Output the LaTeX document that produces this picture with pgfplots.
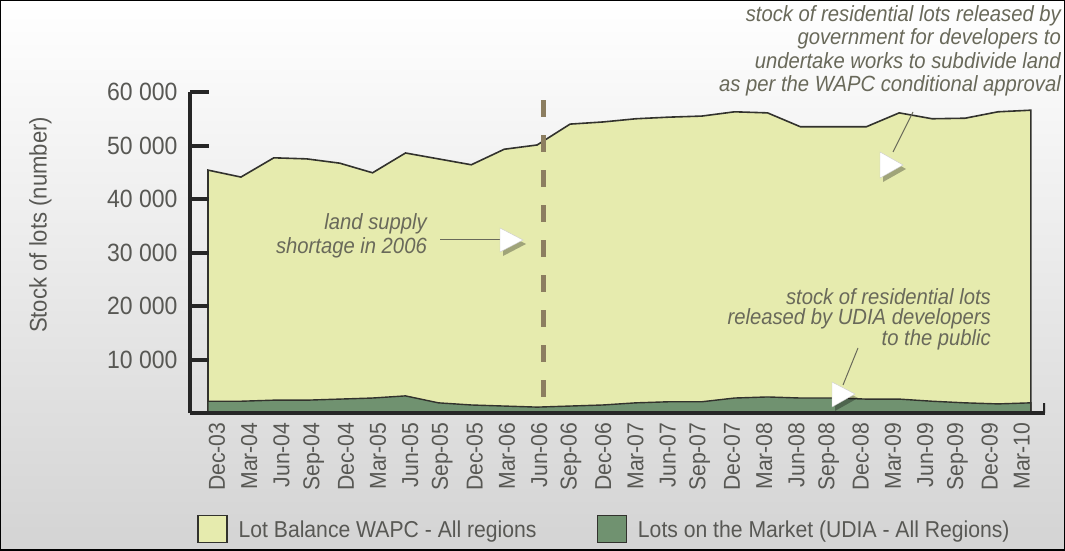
\documentclass[border=0pt]{standalone}
\usepackage{fontspec}
\setmainfont{Liberation Sans}[FakeStretch=0.92]
\usepackage{pgfplots}
\pgfplotsset{compat=1.18}
\usetikzlibrary{shadows}

\definecolor{wapc}{RGB}{230,235,174}
\definecolor{udia}{RGB}{112,146,112}
\definecolor{edge}{RGB}{50,50,45}
\definecolor{txt}{RGB}{88,88,84}
\definecolor{note}{RGB}{105,105,90}
\definecolor{dashc}{RGB}{140,126,96}

% quarterly stock of lots, Dec-03 .. Mar-10 (x = 0 .. 25)
\pgfplotstableread{
x  lots
0  45400
1  44100
2  47700
3  47500
4  46700
5  44900
6  48600
7  47500
8  46400
9  49300
10 50100
11 54000
12 54400
13 55000
14 55300
15 55500
16 56300
17 56100
18 53500
19 53500
20 53500
21 56100
22 55000
23 55100
24 56300
25 56600
}\wapctab
\pgfplotstableread{
x  lots
0  2200
1  2200
2  2400
3  2400
4  2600
5  2800
6  3200
7  1900
8  1500
9  1300
10 1100
11 1300
12 1500
13 1900
14 2100
15 2100
16 2800
17 3000
18 2800
19 2800
20 2600
21 2600
22 2200
23 1900
24 1700
25 1900
}\udiatab

\newcommand\labfont{\fontsize{23}{26}\selectfont}
\newcommand\notefont{\fontsize{22}{23.5}\selectfont\itshape}

\begin{document}
\begin{tikzpicture}
\useasboundingbox (0pt,0pt) rectangle (1065pt,550pt);
\shade[top color=white, middle color=black!7, bottom color=black!17] (0pt,0pt) rectangle (1065pt,550pt);
\draw[line width=2pt] (0pt,0pt) rectangle (1065pt,550pt);

\begin{axis}[
  at={(190pt,137pt)}, anchor=south west,
  scale only axis, width=855pt, height=321pt,
  xmin=-0.547, xmax=25.43, ymin=0, ymax=60000,
  axis on top,
  axis x line=bottom, axis y line=left,
  axis line style={-, line width=4.5pt, black!85},
  tick align=inside, major tick length=19pt,
  scaled y ticks=false,
  ytick={10000,20000,30000,40000,50000,60000},
  yticklabels={10 000,20 000,30 000,40 000,50 000,60 000},
  ytick style={line width=4pt, black!85},
  yticklabel style={font=\fontsize{25}{28}\selectfont, text=txt},
  yticklabel shift=9pt,
  xtick={0.27,1.25,2.23,3.21,4.19,5.16,6.14,7.12,8.10,9.08,10.06,11.03,12.01,
         12.99,13.97,14.94,15.92,16.90,17.88,18.86,19.83,20.81,21.79,22.77,23.75,24.72},
  xticklabels={Dec-03,Mar-04,Jun-04,Sep-04,Dec-04,Mar-05,Jun-05,Sep-05,Dec-05,
               Mar-06,Jun-06,Sep-06,Dec-06,Mar-07,Jun-07,Sep-07,Dec-07,Mar-08,
               Jun-08,Sep-08,Dec-08,Mar-09,Jun-09,Sep-09,Dec-09,Mar-10},
  xtick style={draw=none},
  xticklabel style={rotate=90, anchor=east, font=\fontsize{23}{26}\selectfont, text=txt},
  xticklabel shift=6pt,
  /pgf/number format/assume math mode=true,
  ylabel={Stock of lots (number)},
  ylabel style={at={(rel axis cs:-0.175,0.586)}, anchor=center, font=\fontsize{24}{27}\selectfont, text=txt},
  legend columns=2,
  legend style={at={(0.008,-0.361)}, anchor=west, draw=none, fill=none,
                inner sep=0pt, font=\labfont, text=txt,
                nodes={inner sep=0pt, text depth=0pt},
                /tikz/every odd column/.append style={column sep=11pt},
                /tikz/every even column/.append style={column sep=60pt}},
  legend image code/.code={\draw[#1] (0pt,-13pt) rectangle (29pt,14pt);},
]
\addplot[fill=wapc, draw=edge, line width=1.6pt] table[x=x, y=lots] {\wapctab} \closedcycle;
\addlegendentry{Lot Balance WAPC - All regions}
\addplot[fill=udia, draw=edge, line width=1.4pt] table[x=x, y=lots] {\udiatab} \closedcycle;
\addlegendentry{Lots on the Market (UDIA - All Regions)}
\draw[dashc, line width=5pt, dash pattern=on 17pt off 18pt] (axis cs:10.18,58500) -- (axis cs:10.18,0);
\draw[black!85, line width=3.5pt] (rel axis cs:1,0) -- ++(0pt,10pt);
\end{axis}

% annotations
\node[anchor=north east, align=right, inner sep=0pt, text=note, font=\notefont]
  at (1061pt,545pt) {stock of residential lots released by\\government for developers to\\undertake works to subdivide land\\as per the WAPC conditional approval};
\draw[note, line width=1pt] (913pt,438pt) -- (893pt,398pt);
\path[fill=white, draw=black!20, drop shadow={shadow xshift=3pt, shadow yshift=-4pt, fill=black, opacity=0.3}]
  (880pt,398pt) -- (880pt,372pt) -- (903pt,385pt) -- cycle;

\node[anchor=east, align=right, inner sep=0pt, text=note, font=\notefont]
  at (427pt,314pt) {land supply\\shortage in 2006};
\draw[note, line width=1pt] (440pt,311pt) -- (500pt,311pt);
\path[fill=white, draw=black!20, drop shadow={shadow xshift=3pt, shadow yshift=-4pt, fill=black, opacity=0.3}]
  (500pt,322pt) -- (500pt,298pt) -- (523pt,310pt) -- cycle;

\node[anchor=north east, align=right, inner sep=0pt, text=note, font=\fontsize{22}{20}\selectfont\itshape]
  at (991pt,262pt) {stock of residential lots\\released by UDIA developers\\to the public};
\draw[note, line width=1pt] (858pt,202pt) -- (843pt,165pt);
\path[fill=white, draw=black!20, drop shadow={shadow xshift=3pt, shadow yshift=-4pt, fill=black, opacity=0.3}]
  (832pt,168pt) -- (832pt,143pt) -- (855pt,156pt) -- cycle;
\end{tikzpicture}
\end{document}
